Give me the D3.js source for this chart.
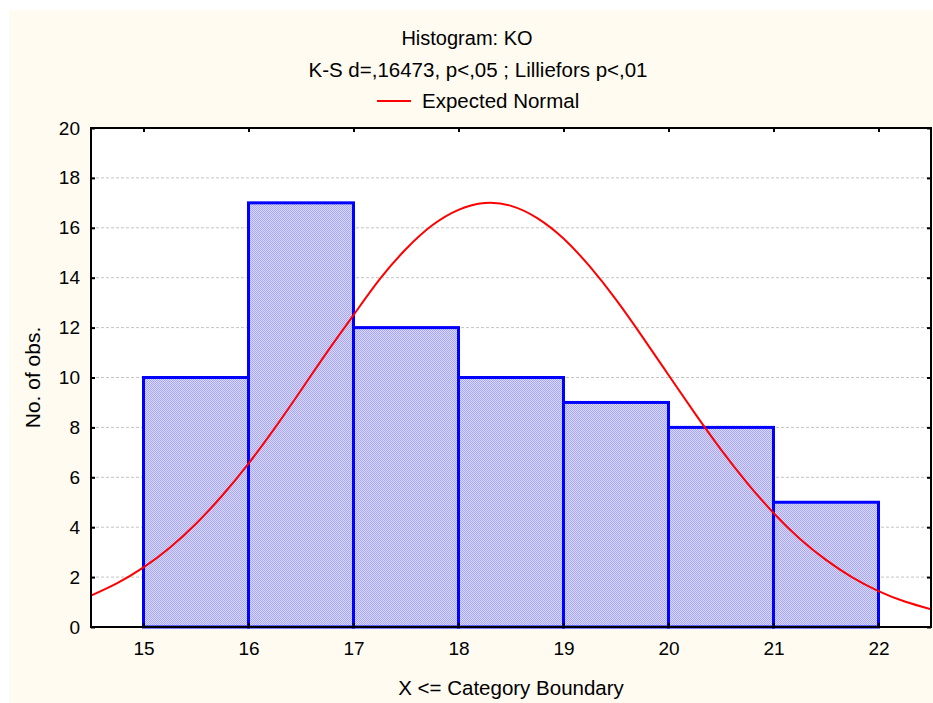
<!DOCTYPE html>
<html><head><meta charset="utf-8">
<script src="https://cdn.jsdelivr.net/npm/d3@7"></script>
<style>body{margin:0;background:#fff}svg{display:block}text{font-family:"Liberation Sans",Arial,sans-serif;fill:#000}</style>
</head><body>
<script>
// Data
const binStarts = [15, 16, 17, 18, 19, 20, 21];
const binCounts = [10, 17, 12, 10, 9, 8, 5];
const xTicks = [15, 16, 17, 18, 19, 20, 21, 22];
const yTicks = [0, 2, 4, 6, 8, 10, 12, 14, 16, 18, 20];
// Expected normal curve
const curveX = [14.5, 14.75, 15, 15.25, 15.5, 15.75, 16, 16.25, 16.5, 16.75, 17, 17.25, 17.5, 17.75, 18, 18.25, 18.5, 18.75, 19, 19.25, 19.5, 19.75, 20, 20.25, 20.5, 20.75, 21, 21.25, 21.5, 21.75, 22, 22.25, 22.5];
const curveY = [1.26, 1.76, 2.39, 3.18, 4.14, 5.27, 6.55, 7.97, 9.49, 11.03, 12.5, 13.94, 15.15, 16.1, 16.72, 16.99, 16.88, 16.39, 15.57, 14.45, 13.12, 11.64, 10.1, 8.57, 7.11, 5.77, 4.57, 3.54, 2.69, 1.99, 1.44, 1.02, 0.71];

const W = 933, H = 703;
const L = 91, R = 931, T = 128, B = 627;

const svg = d3.select("body").append("svg").attr("width", W).attr("height", H);
svg.append("rect").attr("x", 9).attr("y", 10).attr("width", W - 9).attr("height", H - 10).attr("fill", "#FFFBF0");

const defs = svg.append("defs");
const pat = defs.append("pattern").attr("id", "chk").attr("patternUnits", "userSpaceOnUse").attr("width", 2).attr("height", 2);
pat.append("rect").attr("width", 2).attr("height", 2).attr("fill", "#DADAFF");
pat.append("rect").attr("width", 1).attr("height", 1).attr("fill", "#A6A6F4");
pat.append("rect").attr("x", 1).attr("y", 1).attr("width", 1).attr("height", 1).attr("fill", "#A6A6F4");
defs.append("clipPath").attr("id", "clip").append("rect").attr("x", L).attr("y", T).attr("width", R - L).attr("height", B - T);

const x = d3.scaleLinear().domain([14.5, 22.5]).range([L, R]);
const y = d3.scaleLinear().domain([0, 20]).range([B, T]);

svg.append("rect").attr("x", L).attr("y", T).attr("width", R - L).attr("height", B - T).attr("fill", "#fff");

// grid
svg.append("g").selectAll("line").data(yTicks.filter(d => d > 0 && d < 20)).join("line")
  .attr("x1", L).attr("x2", R).attr("y1", d => y(d)).attr("y2", d => y(d))
  .attr("stroke", "#C4C4C4").attr("stroke-width", 1).attr("stroke-dasharray", "3,2");

// bars
svg.append("g").selectAll("rect").data(binStarts).join("rect")
  .attr("x", d => x(d)).attr("width", d => x(d + 1) - x(d))
  .attr("y", (d, i) => y(binCounts[i])).attr("height", (d, i) => y(0) - y(binCounts[i]))
  .attr("fill", "url(#chk)").attr("stroke", "#0000FF").attr("stroke-width", 3);

// curve
const pts = curveX.map((v, i) => [v, curveY[i]]);
svg.append("path").datum(pts).attr("clip-path", "url(#clip)")
  .attr("d", d3.line().x(d => x(d[0])).y(d => y(d[1])).curve(d3.curveNatural))
  .attr("fill", "none").attr("stroke", "#FF0000").attr("stroke-width", 2);

// frame
svg.append("rect").attr("x", L).attr("y", T).attr("width", R - L).attr("height", B - T)
  .attr("fill", "none").attr("stroke", "#000").attr("stroke-width", 2);

// axes (inside ticks)
const axL = d3.axisLeft(y).tickValues(yTicks).tickSize(-4).tickPadding(11).tickFormat(d3.format("d"));
const gL = svg.append("g").attr("transform", `translate(${L},0)`).call(axL);
const axB = d3.axisBottom(x).tickValues(xTicks).tickSize(-4).tickPadding(15).tickFormat(d3.format("d"));
const gB = svg.append("g").attr("transform", `translate(0,${B})`).call(axB);
const axT = d3.axisTop(x).tickValues(xTicks).tickSize(-4).tickFormat("");
const gT = svg.append("g").attr("transform", `translate(0,${T})`).call(axT);
const axR = d3.axisRight(y).tickValues(yTicks).tickSize(-4).tickFormat("");
const gR = svg.append("g").attr("transform", `translate(${R},0)`).call(axR);
[gL, gB, gT, gR].forEach(g => {
  g.select(".domain").remove();
  g.selectAll(".tick line").attr("stroke", "#000").attr("stroke-width", 2);
  g.selectAll(".tick text").attr("font-size", 19).attr("font-family", "Liberation Sans, Arial, sans-serif").attr("fill", "#000");
});

// titles
svg.append("text").attr("x", 467).attr("y", 45).attr("text-anchor", "middle").attr("font-size", 20).text("Histogram: KO");
svg.append("text").attr("x", 478).attr("y", 77).attr("text-anchor", "middle").attr("font-size", 20.5).text("K-S d=,16473, p<,05 ; Lilliefors p<,01");
svg.append("line").attr("x1", 377).attr("x2", 411).attr("y1", 101).attr("y2", 101).attr("stroke", "#FF0000").attr("stroke-width", 2);
svg.append("text").attr("x", 422).attr("y", 108).attr("font-size", 20.5).text("Expected Normal");

svg.append("text").attr("transform", `translate(40,${(T + B) / 2}) rotate(-90)`).attr("text-anchor", "middle").attr("font-size", 21).text("No. of obs.");
svg.append("text").attr("x", (L + R) / 2).attr("y", 695).attr("text-anchor", "middle").attr("font-size", 20.5).text("X <= Category Boundary");
</script>
</body></html>
